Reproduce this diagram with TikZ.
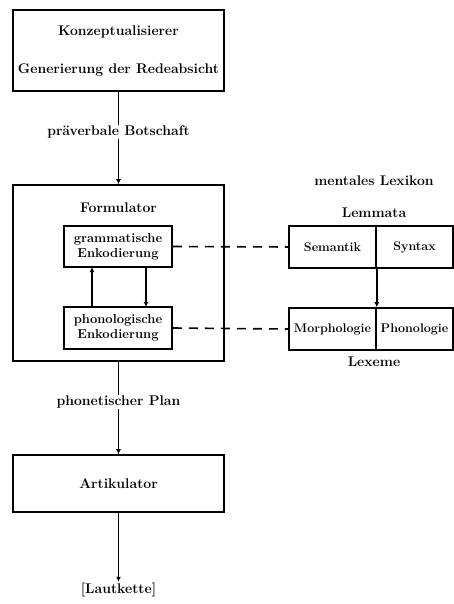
\documentclass[tikz,border=0pt]{standalone}
\usetikzlibrary{arrows.meta}
\begin{document}
\begin{tikzpicture}[x=1pt,y=-1pt,
  lw/.style={line width=1.6pt},
  box/.style={draw,lw,minimum width=#1,inner sep=0pt},
  txt/.style={font=\fontsize{14}{16}\selectfont\bfseries,inner sep=1pt},
  gtxt/.style={font=\fontsize{13}{15}\selectfont\bfseries,inner sep=1pt},
  stxt/.style={font=\fontsize{12.5}{14}\selectfont\bfseries,inner sep=1pt},
  arr/.style={lw,-{Latex[length=5pt,width=5pt]}},
  dsh/.style={lw,dash pattern=on 9pt off 7pt}]
\useasboundingbox (0,0) rectangle (453,604);
% Konzeptualisierer
\node[box=211pt,minimum height=81pt] (konz) at (118.5,50.5) {};
\node[txt] (konzt) at (118.5,32) {Konzeptualisierer};
\node[txt] (gen) at (118.5,70) {Generierung der Redeabsicht};
\node[txt] (pb) at (118.5,132) {präverbale Botschaft};
% Formulator
\node[box=211pt,minimum height=176pt] (form) at (118.5,273) {};
\node[txt] (formt) at (118.5,208) {Formulator};
\node[box=108pt,minimum height=41pt,gtxt,align=center] (gram) at (118,246.5) {grammatische\\Enkodierung};
\node[box=108pt,minimum height=42pt,gtxt,align=center] (phon) at (118,328) {phonologische\\Enkodierung};
\coordinate (gup) at (92,267);
\coordinate (pup) at (92,307);
\coordinate (gdn) at (146,267);
\coordinate (pdn) at (146,307);
\draw[arr] (pup) -- (gup);
\draw[arr] (gdn) -- (pdn);
% Lexicon
\node[txt] (ml) at (374,181) {mentales Lexikon};
\node[txt] (lem) at (374,213) {Lemmata};
\node[box=87pt,minimum height=42pt,stxt] (sem) at (332.5,247) {Semantik};
\node[box=77pt,minimum height=42pt,stxt] (syn) at (414.5,247) {Syntax};
\node[box=87pt,minimum height=42pt,stxt] (mor) at (332.5,329) {Morphologie};
\node[box=77pt,minimum height=42pt,stxt] (pho) at (414.5,329) {Phonologie};
\node[txt] (lex) at (374,362) {Lexeme};
\draw[arr] (sem.south east) -- (mor.north east);
\draw[dsh] (gram.east) -- (sem.west);
\draw[dsh] (phon.east) -- (mor.west);
% Artikulator
\node[txt] (pp) at (118.5,402) {phonetischer Plan};
\node[box=211pt,minimum height=57pt,txt] (art) at (118.5,483.5) {Artikulator};
\node[txt] (lk) at (118.5,590) {[Lautkette]};
\draw[lw] (konz) -- (pb);
\draw[arr] (pb) -- (form);
\draw[lw] (form) -- (pp);
\draw[arr] (pp) -- (art);
\draw[arr] (art) -- (lk);
\end{tikzpicture}
\end{document}
